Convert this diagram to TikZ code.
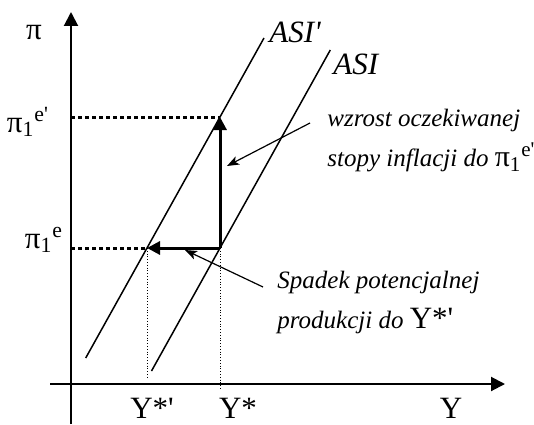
\documentclass[tikz,border=0pt]{standalone}
\usepackage{fontspec}
\setmainfont{Liberation Serif}
\usetikzlibrary{arrows.meta}

\begin{document}
\begin{tikzpicture}[
    x=0.5pt, y=0.5pt,
    axis/.style={-{Triangle[length=7pt, width=7pt]}, line width=1pt},
    curve/.style={line width=0.75pt},
    shiftarrow/.style={-{Triangle[length=6.5pt, width=6.5pt]}, line width=1.5pt},
    level/.style={line width=1.5pt, dash pattern=on 2pt off 1.5pt},
    guide/.style={line width=0.4pt, dash pattern=on 0.4pt off 1pt},
    note/.style={-{Stealth[length=6pt, width=4.5pt, inset=1.5pt]}, line width=0.6pt},
    lab/.style={font=\fontsize{15.5}{16}\selectfont},
    curvelab/.style={anchor=west, inner sep=0pt, font=\fontsize{15.5}{16}\selectfont\itshape},
    txt/.style={align=left, anchor=west, inner sep=0pt, font=\fontsize{12.5}{20}\selectfont\itshape}
]
\useasboundingbox (0,0) rectangle (534,424);

\coordinate (ybot) at (71,0);
\coordinate (ytop) at (71,412);
\coordinate (xleft) at (50,40);
\coordinate (xright) at (505,40);

\coordinate (A) at (220,176);
\coordinate (B) at (147,176);
\coordinate (C) at (220,307);
\coordinate (ystarp) at (147,45);
\coordinate (ystar) at (220,35);

\coordinate (asipbot) at (85.7,66);
\coordinate (asiptop) at (264,386);
\coordinate (asibot) at (151.5,53);
\coordinate (asitop) at (330.3,374);

\coordinate (wzfrom) at (310,301);
\coordinate (wzto) at (227,258);
\coordinate (spfrom) at (263,137);
\coordinate (spto) at (185,174);

\draw[axis] (ybot) -- (ytop);
\draw[axis] (xleft) -- (xright);

\draw[curve] (asipbot) -- (asiptop);
\draw[curve] (asibot) -- (asitop);

\draw[level] (ybot |- C) -- (C);
\draw[level] (ybot |- B) -- (B);
\draw[guide] (B) -- (ystarp);
\draw[guide] (A) -- (ystar);

\draw[shiftarrow] (A) -- (C);
\draw[shiftarrow] (A) -- (B);

\node[lab] (pi) at (34,391) {π};
\node[lab] (pihi) at (28,302) {π\textsubscript{1}\textsuperscript{e\textquotesingle}};
\node[lab] (pilo) at (44,184) {π\textsubscript{1}\textsuperscript{e}};
\node[curvelab] (asip) at (269,392) {ASI\textquotesingle};
\node[curvelab] (asi) at (333,360) {ASI};
\node[lab] (ysp) at (152,16) {Y*\textquotesingle};
\node[lab] (ys) at (238,16) {Y*};
\node[lab] (y) at (451,16) {Y};

\node[txt] (wzrost) at (327,283) {wzrost oczekiwanej\\stopy inflacji do {\fontsize{15}{15}\selectfont\upshape π\textsubscript{1}\textsuperscript{e\textquotesingle}}};
\node[txt] (spadek) at (277,122) {Spadek potencjalnej\\produkcji do {\fontsize{15.5}{15.5}\selectfont\upshape Y*\textquotesingle}};

\draw[note] (wzfrom) -- (wzto);
\draw[note] (spfrom) -- (spto);

\end{tikzpicture}
\end{document}
